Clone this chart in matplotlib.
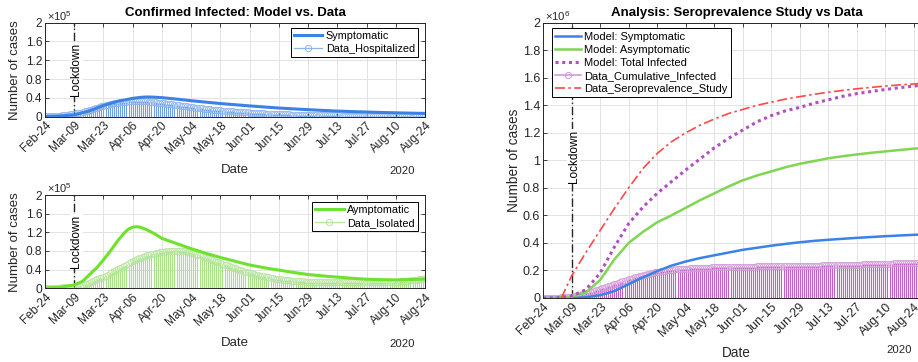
import numpy as np
import matplotlib.pyplot as plt
import matplotlib.dates as mdates
import matplotlib.transforms as mtransforms
from matplotlib.lines import Line2D
from matplotlib.legend_handler import HandlerLine2D

plt.rcParams['font.family'] = ['Liberation Sans', 'DejaVu Sans']
plt.rcParams['mathtext.fontset'] = 'custom'
plt.rcParams['mathtext.rm'] = 'Liberation Sans'
plt.rcParams['mathtext.default'] = 'regular'

start = np.datetime64('2020-02-24')
lockdown = np.datetime64('2020-03-09')

# daily data (thousands of cases), Feb-24 .. Aug-24
hospitalized = [
    1, 1, 1.2, 1.4, 1.6, 1.9, 2.2, 2.5, 2.9, 3.3, 3.8, 4.3, 4.9, 5.5,
    6.2, 7, 7.9, 8.9, 10, 11.2, 12.4, 13.7, 15, 16.4, 17.8, 19.2, 20.6, 22,
    23.2, 24.4, 25.5, 26.5, 27.4, 28.3, 29.1, 29.8, 30.4, 31, 31.5, 32, 32.4, 32.8,
    33, 33.2, 33.3, 33.3, 33.2, 33, 32.8, 32.5, 32.1, 31.7, 31.2, 30.7, 30.2, 29.6,
    29, 28.4, 27.8, 27.2, 26.6, 26, 25.4, 24.8, 24.2, 23.6, 23, 22.4, 21.8, 21.2,
    20.6, 20, 19.4, 18.8, 18.3, 17.8, 17.2, 16.7, 16.2, 15.7, 15.2, 14.8, 14.3, 13.9,
    13.5, 13.1, 12.7, 12.3, 11.9, 11.5, 11.2, 10.8, 10.5, 10.2, 9.9, 9.6, 9.3, 9,
    8.7, 8.4, 8.1, 7.9, 7.6, 7.4, 7.1, 6.9, 6.7, 6.5, 6.3, 6.1, 5.9, 5.7,
    5.5, 5.4, 5.2, 5, 4.9, 4.7, 4.6, 4.4, 4.3, 4.2, 4.1, 4, 3.9, 3.8,
    3.7, 3.6, 3.5, 3.4, 3.3, 3.2, 3.1, 3.1, 3, 2.9, 2.9, 2.8, 2.7, 2.7,
    2.6, 2.6, 2.5, 2.5, 2.4, 2.4, 2.3, 2.3, 2.2, 2.2, 2.2, 2.1, 2.1, 2,
    2, 2, 1.9, 1.9, 1.9, 1.8, 1.8, 1.8, 1.7, 1.7, 1.7, 1.6, 1.6, 1.6,
    1.6, 1.5, 1.5, 1.5, 1.5, 1.4, 1.4, 1.4, 1.4, 1.3, 1.3, 1.3, 1.3, 1.2, 1.2]

isolated = [
    1, 1, 1.1, 1.2, 1.3, 1.4, 1.5, 1.6, 1.8, 2, 2.2, 2.4, 2.7, 3,
    3.4, 4, 4.8, 5.8, 7, 8.4, 10, 11.8, 13.6, 15.5, 17.4, 19.3, 21.2, 23,
    25, 27.2, 29.5, 31.8, 34.2, 36.6, 39, 41.4, 43.8, 46.2, 48.6, 51, 53.4, 55.8,
    58, 60, 62, 64, 65.8, 67.5, 69, 70.5, 72, 73.3, 74.5, 75.6, 76.6, 77.5,
    78.2, 78.8, 79.3, 79.7, 80, 80.2, 80.3, 80.3, 80.2, 80, 79.6, 79, 78.2, 77.2,
    76, 74.8, 73.5, 72, 70.5, 69, 67.4, 65.8, 64.2, 62.5, 60.8, 59.1, 57.4, 55.7,
    54, 52.3, 50.6, 48.9, 47.2, 45.6, 44, 42.5, 41, 39.6, 38.2, 36.9, 35.6, 34.3,
    33, 31.8, 30.6, 29.5, 28.4, 27.3, 26.3, 25.3, 24.4, 23.5, 22.6, 21.8, 21, 20.3,
    19.6, 19, 18.4, 17.9, 17.4, 16.9, 16.5, 16.1, 15.7, 15.4, 15.1, 14.8, 14.6, 14.4,
    14.2, 14, 13.8, 13.7, 13.6, 13.5, 13.4, 13.3, 13.2, 13.1, 13.1, 13, 13, 12.9,
    12.9, 12.9, 12.8, 12.8, 12.8, 12.8, 12.7, 12.7, 12.7, 12.7, 12.7, 12.7, 12.7, 12.7,
    12.7, 12.8, 12.8, 12.8, 12.9, 12.9, 13, 13.1, 13.2, 13.3, 13.4, 13.6, 13.8, 14,
    14.2, 14.5, 14.8, 15.1, 15.5, 15.9, 16.4, 16.9, 17.4, 18, 18.6, 19.3, 20, 20.8, 21.6]

# model curves, left panels (thousands)
sym_days = [0, 7, 14, 21, 28, 35, 42, 46, 49, 52, 56, 63, 70, 77, 84, 91, 98, 105,
            112, 119, 126, 133, 140, 147, 154, 161, 168, 175, 182]
symptomatic = [0.5, 1.5, 4, 12, 24, 33, 39, 41.3, 42, 41.6, 40.5, 37.5, 34, 31, 28,
               25.5, 23, 20.7, 18.5, 16.6, 15, 13.4, 12, 10.9, 10, 9, 8.3, 7.6, 7]
asym_days = [0, 7, 14, 18, 21, 25, 28, 32, 35, 38, 40, 42, 44, 46, 49, 53, 56, 63, 70,
             77, 84, 91, 98, 105, 112, 119, 126, 133, 140, 147, 154, 161, 168, 175, 182]
asymptomatic = [1, 2, 7, 15, 28, 45, 61, 84, 103, 119, 127, 131, 132, 130.5, 125,
                115.5, 107, 96, 85, 75, 66, 58, 50, 44, 39, 34, 29.5, 26.5, 24, 21.5,
                19.5, 18.5, 18, 18.8, 20]

# right panel (tens of thousands), Feb-24 .. Aug-28
cumulative = [
    0.2, 0.2, 0.2, 0.2, 0.2, 0.3, 0.3, 0.3, 0.3, 0.4, 0.5, 0.6, 0.7, 0.8,
    1, 1.2, 1.5, 1.8, 2.2, 2.6, 3, 3.4, 3.8, 4.2, 4.6, 5, 5.5, 6,
    6.5, 7, 7.5, 8, 8.5, 9, 9.5, 10, 10.5, 11, 11.5, 12, 12.5, 13,
    13.5, 14, 14.5, 14.9, 15.3, 15.7, 16.1, 16.5, 16.9, 17.3, 17.7, 18, 18.3, 18.6,
    19, 19.2, 19.4, 19.6, 19.8, 20, 20.2, 20.4, 20.6, 20.8, 20.9, 21, 21.1, 21.2,
    21.3, 21.4, 21.5, 21.6, 21.7, 21.7, 21.8, 21.9, 21.9, 22, 22, 22.1, 22.1, 22.2,
    22.2, 22.3, 22.3, 22.3, 22.4, 22.4, 22.4, 22.5, 22.5, 22.5, 22.6, 22.6, 22.6, 22.7,
    22.7, 22.7, 22.7, 22.8, 22.8, 22.8, 22.8, 22.9, 22.9, 22.9, 22.9, 23, 23, 23,
    23, 23, 23.1, 23.1, 23.1, 23.1, 23.2, 23.2, 23.2, 23.2, 23.3, 23.3, 23.3, 23.3,
    23.4, 23.4, 23.4, 23.4, 23.5, 23.5, 23.5, 23.5, 23.6, 23.6, 23.6, 23.7, 23.7, 23.7,
    23.8, 23.8, 23.8, 23.9, 23.9, 23.9, 24, 24, 24, 24.1, 24.1, 24.1, 24.2, 24.2,
    24.3, 24.3, 24.3, 24.4, 24.4, 24.5, 24.5, 24.5, 24.6, 24.6, 24.7, 24.7, 24.8, 24.8,
    24.9, 24.9, 25, 25, 25.1, 25.1, 25.2, 25.2, 25.3, 25.3, 25.4, 25.4, 25.5, 25.5,
    25.6, 25.6, 25.7, 25.7, 25.8]

model_days = [0, 7, 14, 21, 28, 35, 42, 49, 56, 63, 70, 77, 84, 91, 98, 105, 112,
              119, 126, 133, 140, 147, 154, 161, 168, 175, 182, 186]
model_sym = [0, 0, 0, 0.5, 2, 5, 10, 15, 19.5, 23.5, 26.5, 29, 31, 33, 35, 36.5, 38,
             39.3, 40.5, 41.5, 42.3, 43, 43.7, 44.3, 44.9, 45.4, 45.9, 46.2]
model_asym = [0, 0, 1, 4, 13, 28, 40, 48, 55, 60, 65.5, 71, 76, 81, 85.5, 89, 92,
              95, 97.5, 99.5, 101.5, 103, 104.3, 105.5, 106.5, 107.5, 108.5, 109]
model_total = [0, 0.2, 1.5, 6, 18, 37, 54, 66, 76, 84.5, 93, 101, 109, 116, 122, 128,
               132.5, 136, 138.5, 141.5, 144, 146.5, 148.5, 150, 151.5, 152.8, 154, 154.5]
sero_days = [9, 14, 21, 28, 35, 42, 49, 56, 63, 70, 77, 84, 91, 98, 105, 112, 119,
             126, 133, 140, 147, 154, 161, 168, 175, 182, 186]
seroprevalence = [0, 16, 33, 49, 65, 80, 94, 105, 113.5, 120, 125.5, 130, 134, 137,
                  140, 142.3, 144.5, 146.3, 148, 149.5, 150.8, 152, 153, 154, 154.8,
                  155.5, 156]

left_yticks = [0, 0.4, 0.8, 1.2, 1.6, 2]
right_yticks = [0, 0.2, 0.4, 0.6, 0.8, 1, 1.2, 1.4, 1.6, 1.8, 2]


class EndMarker(HandlerLine2D):
    # stem-style legend entry: marker at the right end of the line
    def get_xdata(self, legend, xdescent, ydescent, width, height, fontsize):
        xdata, _ = super().get_xdata(legend, xdescent, ydescent, width, height, fontsize)
        return xdata, [xdata[-1]]


def to_dates(days):
    return start + np.array(days).astype('timedelta64[D]')


def style_axes(ax, end_day, yticks, scale, tick_size):
    ticks = to_dates(np.arange(0, 183, 14))
    ax.set_xticks(ticks)
    ax.xaxis.set_major_formatter(mdates.DateFormatter('%b-%d'))
    ax.set_xlim(start, start + np.timedelta64(end_day, 'D'))
    ax.set_ylim(0, 2 * scale)
    ax.set_yticks([t * scale for t in yticks])
    ax.set_yticklabels([f'{t:g}' for t in yticks])
    ax.grid(True, color='#e3e3e3', lw=0.7)
    ax.set_axisbelow(True)
    ax.tick_params(direction='in', top=True, right=True, length=3, width=0.6,
                   labelsize=tick_size, pad=2, colors='#262626')
    for lab in ax.get_xticklabels():
        lab.set_rotation(45)
        lab.set_ha('right')
        lab.set_rotation_mode('anchor')
    for s in ax.spines.values():
        s.set_color('#262626')
        s.set_linewidth(0.7)


def stems(ax, dates, vals, line_c, mark_c):
    ax.vlines(dates, 0, vals, colors=line_c, lw=0.8)
    ax.plot(dates, vals, 'o', mfc='none', mec=mark_c, ms=4.5, mew=0.6, alpha=0.85)


def lockdown_mark(ax, ymid, size):
    ax.axvline(lockdown, color='#262626', lw=1, ls=(0, (6, 2, 1, 2)))
    shift = mtransforms.offset_copy(ax.transData, fig=ax.figure, x=2, y=0, units='dots')
    ax.text(lockdown, ymid, 'Lockdown', rotation=90, ha='center', va='center',
            fontsize=size, color='black', transform=shift,
            bbox=dict(fc='white', ec='none', pad=0.5))


def add_legend(ax, handles, labels, loc, anchor, size, data_handle, hlen):
    leg = ax.legend(handles, labels, loc=loc, bbox_to_anchor=anchor, borderaxespad=0,
                    fontsize=size, fancybox=False, edgecolor='black', framealpha=1,
                    handlelength=hlen, handletextpad=0.35, labelspacing=0.28,
                    borderpad=0.3, handler_map={data_handle: EndMarker()})
    leg.get_frame().set_linewidth(0.7)


fig = plt.figure(figsize=(9.18, 3.62), dpi=100)
ax1 = fig.add_axes([0.049, 0.6776, 0.414, 0.2597])
ax2 = fig.add_axes([0.049, 0.2036, 0.414, 0.2577])
ax3 = fig.add_axes([0.5915, 0.1768, 0.4219, 0.7605])

days_left = to_dates(np.arange(len(hospitalized)))
days_right = to_dates(np.arange(len(cumulative)))
k = 1e3

# top left
style_axes(ax1, 182, left_yticks, 1e5, 8.6)
lockdown_mark(ax1, 1e5, 8.5)
stems(ax1, days_left, np.array(hospitalized) * k, '#6f9fe8', '#8fb5ee')
ax1.plot(to_dates(sym_days), np.array(symptomatic) * k, color='#3b82e6', lw=2.2)
h1 = Line2D([], [], color='#3b82e6', lw=2.2)
h2 = Line2D([], [], color='#8fb5ee', lw=0.9, marker='o', mfc='none', ms=4.5, mew=0.7)
add_legend(ax1, [h1, h2], ['Symptomatic', 'Data_Hospitalized'], 'upper right',
           (0.982, 0.947), 7.8, h2, 2.6)
ax1.set_title('Confirmed Infected: Model vs. Data', fontsize=9.5, fontweight='bold', pad=5)

# bottom left
style_axes(ax2, 182, left_yticks, 1e5, 8.6)
lockdown_mark(ax2, 1e5, 8.5)
stems(ax2, days_left, np.array(isolated) * k, '#a8e08a', '#b5e69b')
ax2.plot(to_dates(asym_days), np.array(asymptomatic) * k, color='#6ee22c', lw=2.2)
g1 = Line2D([], [], color='#6ee22c', lw=2.2)
g2 = Line2D([], [], color='#b5e69b', lw=0.9, marker='o', mfc='none', ms=4.5, mew=0.7)
add_legend(ax2, [g1, g2], ['Aymptomatic', 'Data_Isolated'], 'upper right',
           (0.982, 0.928), 7.8, g2, 2.6)

for ax, ylab in ((ax1, -0.503), (ax2, -0.519)):
    ax.set_ylabel('Number of cases', fontsize=9.5, color='#262626')
    ax.yaxis.set_label_coords(-0.062, 0.5)
    ax.set_xlabel('Date', fontsize=9.5, color='#262626')
    ax.xaxis.set_label_coords(0.5, ylab)
    ax.text(0.974, ylab - 0.075, '2020', transform=ax.transAxes, ha='right',
            va='center', fontsize=8.2, color='#262626')
    ax.text(0.005, 1.0, r'$\times10^{5}$', transform=ax.transAxes, ha='left',
            va='bottom', fontsize=8, color='#262626')

# right panel
k2 = 1e4
style_axes(ax3, 190, right_yticks, 1e6, 9)
lockdown_mark(ax3, 1.03e6, 8.5)
stems(ax3, days_right, np.array(cumulative) * k2, '#c060c8', '#d39ad8')
l1, = ax3.plot(to_dates(model_days), np.array(model_sym) * k2, color='#3b82e6', lw=1.8)
l2, = ax3.plot(to_dates(model_days), np.array(model_asym) * k2, color='#80d552', lw=1.8)
l3, = ax3.plot(to_dates(model_days), np.array(model_total) * k2, color='#b04fc2',
               lw=2.2, ls=(0, (1, 1.2)))
l5, = ax3.plot(to_dates(sero_days), np.array(seroprevalence) * k2, color='#ff4848',
               lw=1.2, ls=(0, (6, 2, 1.5, 2)))
l4 = Line2D([], [], color='#d39ad8', lw=1.2, marker='o', mfc='none', ms=4.5, mew=0.7)
add_legend(ax3, [l1, l2, l3, l4, l5],
           ['Model: Symptomatic', 'Model: Asymptomatic', 'Model: Total Infected',
            'Data_Cumulative_Infected', 'Data_Seroprevalence_Study'],
           'upper left', (0.0225, 0.98), 8, l4, 2.3)
ax3.set_title('Analysis: Seroprevalence Study vs Data', fontsize=9.5,
              fontweight='bold', pad=5)
ax3.set_ylabel('Number of cases', fontsize=9.8, color='#262626')
ax3.yaxis.set_label_coords(-0.057, 0.5)
ax3.set_xlabel('Date', fontsize=9.8, color='#262626')
ax3.xaxis.set_label_coords(0.5, -0.173)
ax3.text(0.953, -0.19, '2020', transform=ax3.transAxes, ha='right', va='center',
         fontsize=8.2, color='#262626')
ax3.text(0.005, 1.0, r'$\times10^{6}$', transform=ax3.transAxes, ha='left',
         va='bottom', fontsize=8.2, color='#262626')

fig.savefig('out.png', dpi=100)
